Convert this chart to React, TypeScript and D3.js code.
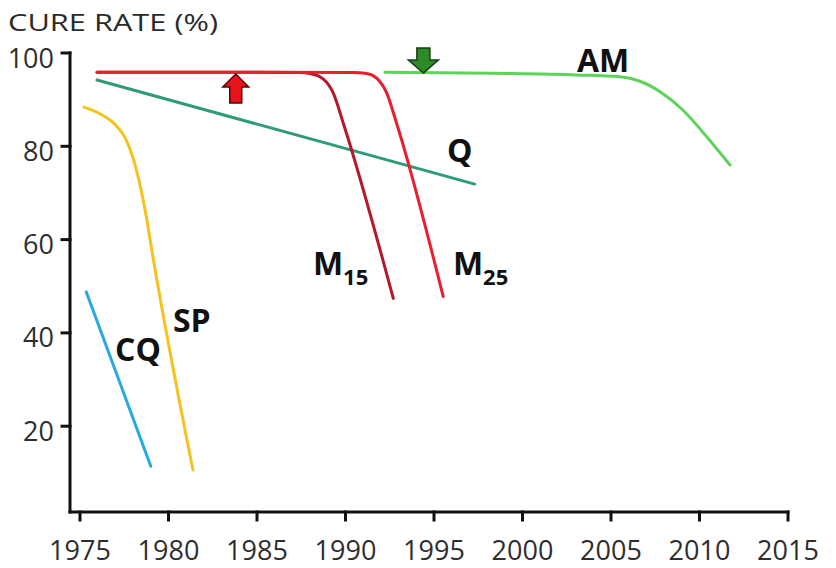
import React from "react";
import * as d3 from "d3";

// ---- data ----
const xTickYears = [1975, 1980, 1985, 1990, 1995, 2000, 2005, 2010, 2015];
const yTickValues = [20, 40, 60, 80, 100];

const cqYears = [1975.35, 1979.0];
const cqValues = [48.8, 11.4];

const spYears = [1975.23, 1976.3, 1977.0, 1977.55, 1977.99, 1978.39, 1978.73, 1979.01, 1981.38];
const spValues = [88.4, 86.6, 84.6, 81.8, 77.6, 71.7, 65.3, 58.8, 10.6];

const qYears = [1975.96, 1997.3];
const qValues = [94.2, 71.9];

const m15Years = [1975.96, 1984.0, 1987.4, 1987.99, 1988.75, 1989.31, 1989.88, 1992.7];
const m15Values = [95.9, 95.9, 95.8, 95.6, 94.4, 91.4, 84.9, 47.4];

const m25Years = [1975.96, 1984.0, 1990.4, 1991.2, 1991.76, 1992.33, 1992.89, 1995.52];
const m25Values = [95.9, 95.9, 95.8, 95.6, 94.6, 91.4, 84.9, 47.8];

const amYears = [1992.23, 1998.33, 2003.08, 2005.5, 2006.6, 2007.77, 2009.0, 2010.42, 2011.72];
const amValues = [95.9, 95.65, 95.3, 94.9, 94.0, 91.7, 88.0, 82.0, 76.0];

const labelNames = ["AM", "Q", "M", "M", "SP", "CQ"];
const labelSubs = ["", "", "15", "25", "", ""];
const labelYears = [2003.08, 1995.73, 1988.16, 1996.07, 1980.25, 1976.98];
const labelValues = [95.9, 76.6, 52.4, 52.4, 40.2, 34.0];

const arrowYears = [1983.8, 1994.4];
const arrowValues = [95.5, 95.7];
const arrowDirs = ["up", "down"];

// ---- layout ----
const W = 836;
const H = 568;
const x = d3.scaleLinear().domain([1975, 2015]).range([80, 788]);
const y = d3.scaleLinear().domain([0, 100]).range([519.5, 53]);
const axisX0 = 70;
const axisY0 = 512;
const FONT = "'Open Sans', 'Noto Sans', sans-serif";

function path(years: number[], values: number[], curve: any) {
  const pts = years.map((t, i) => [t, values[i]] as [number, number]);
  return d3
    .line<[number, number]>()
    .x((d) => x(d[0]))
    .y((d) => y(d[1]))
    .curve(curve)(pts) as string;
}

function arrowPath(cx: number, tipY: number, dir: string) {
  const s = dir === "up" ? 1 : -1;
  const hw = dir === "up" ? 13 : 15;
  const sw = dir === "up" ? 6 : 6.5;
  const head = 13;
  const len = dir === "up" ? 29 : 25;
  const p = [
    [cx, tipY],
    [cx + hw, tipY + s * head],
    [cx + sw, tipY + s * head],
    [cx + sw, tipY + s * len],
    [cx - sw, tipY + s * len],
    [cx - sw, tipY + s * head],
    [cx - hw, tipY + s * head],
  ];
  return "M" + p.map((q) => q.join(",")).join("L") + "Z";
}

export default function App() {
  const series = [
    { d: path(cqYears, cqValues, d3.curveLinear), c: "#2AA8E0" },
    { d: path(spYears, spValues, d3.curveMonotoneX), c: "#F6C21C" },
    { d: path(qYears, qValues, d3.curveLinear), c: "#2F9C78" },
    { d: path(m15Years, m15Values, d3.curveMonotoneX), c: "#B3182B" },
    { d: path(m25Years, m25Values, d3.curveMonotoneX), c: "#E6202E" },
    { d: path(amYears, amValues, d3.curveMonotoneX), c: "#5ED35A" },
  ];
  return (
    <svg
      width={W}
      height={H}
      viewBox={`0 0 ${W} ${H}`}
      style={{ position: "absolute", left: 0, top: 0, background: "#fff" }}
    >
      <rect width={W} height={H} fill="#fff" />
      {/* title */}
      <text
        x={8}
        y={31}
        fontFamily={FONT}
        fontSize={24.5}
        fill="#2a2a2a"
        textLength={210}
        lengthAdjust="spacingAndGlyphs"
      >
        CURE RATE (%)
      </text>

      {/* axes */}
      <g stroke="#111" strokeWidth={3} fill="none" strokeLinecap="square">
        <line x1={axisX0} y1={y(100)} x2={axisX0} y2={axisY0} />
        <line x1={axisX0} y1={axisY0} x2={x(2015)} y2={axisY0} />
        {yTickValues.map((v) => (
          <line key={"yt" + v} x1={axisX0 - 8} x2={axisX0} y1={y(v)} y2={y(v)} />
        ))}
        {xTickYears.map((t) => (
          <line key={"xt" + t} x1={x(t)} x2={x(t)} y1={axisY0} y2={axisY0 + 8} />
        ))}
      </g>
      <g fontFamily={FONT} fontSize={27} fill="#2e2e2e">
        {yTickValues.map((v) => (
          <text key={"yl" + v} x={54} y={y(v) + 14.5} textAnchor="end">
            {v}
          </text>
        ))}
        {xTickYears.map((t) => (
          <text key={"xl" + t} x={x(t)} y={560} textAnchor="middle">
            {t}
          </text>
        ))}
      </g>

      {/* series */}
      <g fill="none" strokeWidth={3} strokeLinecap="round" strokeLinejoin="round">
        {series.map((s, i) => (
          <path key={i} d={s.d} stroke={s.c} />
        ))}
      </g>

      {/* arrows */}
      {arrowYears.map((t, i) => (
        <path
          key={"ar" + i}
          d={arrowPath(x(t), y(arrowValues[i]), arrowDirs[i])}
          fill={arrowDirs[i] === "up" ? "#E8141B" : "#2E8A26"}
          stroke={arrowDirs[i] === "up" ? "#4a0a0a" : "#173d14"}
          strokeWidth={1.5}
          strokeLinejoin="miter"
        />
      ))}

      {/* labels */}
      <g fontFamily={FONT} fontWeight={700} fill="#111">
        {labelNames.map((n, i) => (
          <text key={"lb" + i} x={x(labelYears[i])} y={y(labelValues[i])} fontSize={32}>
            {n}
            {labelSubs[i] ? (
              <tspan fontSize={22} dy={10}>
                {labelSubs[i]}
              </tspan>
            ) : null}
          </text>
        ))}
      </g>
    </svg>
  );
}
